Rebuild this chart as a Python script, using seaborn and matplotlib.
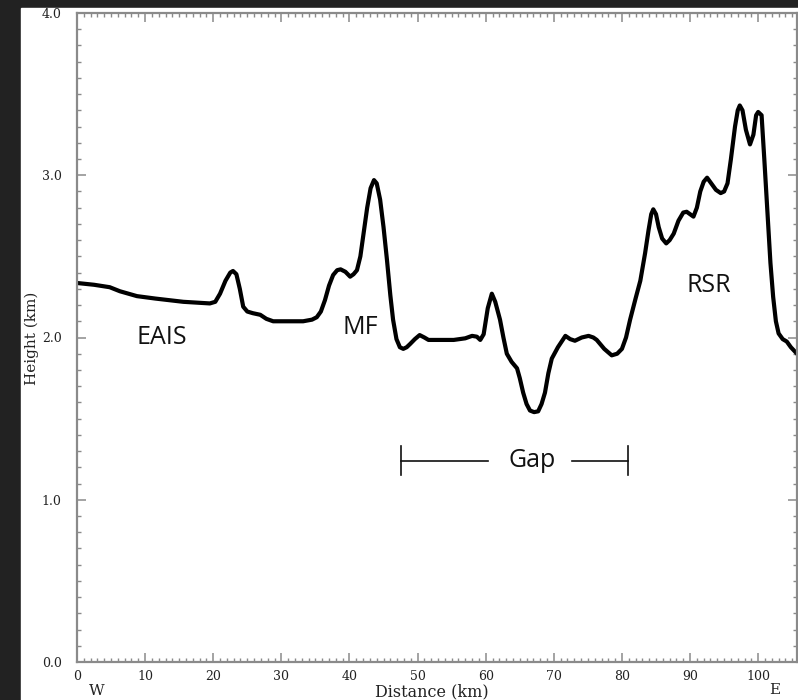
import pandas as pd
import numpy as np
import seaborn as sns
import matplotlib.pyplot as plt
import matplotlib.patches as mpatches
from matplotlib.ticker import MultipleLocator

# profile (km, km)
distance = [0.0, 2.5, 4.8, 6.3, 8.8, 11.5, 13.5, 15.6, 17.5, 19.5,
            20.3, 21.0, 21.8, 22.5, 22.9, 23.4, 23.9, 24.4, 25.0, 25.8,
            26.9, 27.8, 28.8, 30.5, 33.2, 34.5, 35.2, 35.8, 36.4, 37.0,
            37.6, 38.2, 38.7, 39.4, 40.1, 40.6, 41.1, 41.6, 42.0, 42.6,
            43.1, 43.6, 44.0, 44.5, 45.0, 45.5, 46.0, 46.4, 46.9, 47.4,
            47.9, 48.4, 48.9, 49.6, 50.3, 51.0, 51.6, 53.5, 55.3, 57.0,
            58.0, 58.7, 59.2, 59.7, 60.3, 60.9, 61.4, 62.1, 62.6, 63.1,
            63.8, 64.6, 65.0, 65.5, 66.0, 66.5, 67.1, 67.7, 68.2, 68.7,
            69.2, 69.7, 70.6, 71.7, 72.4, 73.1, 74.1, 75.1, 75.8, 76.3,
            77.4, 78.5, 79.3, 80.0, 80.6, 81.2, 82.0, 82.7, 83.4, 83.9,
            84.3, 84.6, 85.0, 85.4, 85.9, 86.5, 87.0, 87.6, 88.3, 89.0,
            89.5, 90.0, 90.5, 91.0, 91.5, 92.0, 92.5, 93.1, 93.8, 94.5,
            95.0, 95.5, 96.0, 96.6, 97.0, 97.3, 97.7, 98.2, 98.8, 99.3,
            99.7, 100.0, 100.5, 100.9, 101.4, 101.8, 102.2, 102.6, 103.0, 103.6,
            104.2, 104.8, 105.7]
height = [2.336, 2.325, 2.31, 2.285, 2.255, 2.24, 2.23, 2.22, 2.215, 2.21,
          2.22, 2.27, 2.35, 2.40, 2.41, 2.39, 2.30, 2.19, 2.16, 2.15,
          2.14, 2.115, 2.10, 2.10, 2.10, 2.11, 2.125, 2.16, 2.23, 2.32,
          2.385, 2.415, 2.42, 2.405, 2.375, 2.39, 2.415, 2.50, 2.62, 2.80,
          2.92, 2.97, 2.95, 2.85, 2.68, 2.48, 2.26, 2.11, 1.99, 1.94,
          1.93, 1.94, 1.96, 1.99, 2.015, 2.00, 1.985, 1.985, 1.985, 1.995,
          2.01, 2.005, 1.985, 2.02, 2.18, 2.27, 2.22, 2.11, 2.00, 1.90,
          1.85, 1.81, 1.75, 1.66, 1.59, 1.55, 1.54, 1.545, 1.59, 1.66,
          1.78, 1.87, 1.94, 2.01, 1.99, 1.98, 2.00, 2.01, 2.00, 1.985,
          1.93, 1.89, 1.90, 1.93, 2.00, 2.11, 2.24, 2.35, 2.52, 2.66,
          2.76, 2.79, 2.76, 2.68, 2.61, 2.58, 2.60, 2.64, 2.72, 2.77,
          2.775, 2.76, 2.745, 2.80, 2.90, 2.96, 2.985, 2.95, 2.91, 2.89,
          2.90, 2.95, 3.10, 3.30, 3.40, 3.43, 3.40, 3.28, 3.19, 3.25,
          3.37, 3.39, 3.37, 3.10, 2.75, 2.46, 2.25, 2.10, 2.025, 1.99,
          1.975, 1.94, 1.90]

region_labels = ['EAIS', 'MF', 'RSR']
region_x = [12.5, 41.6, 92.7]
region_y = [2.0, 2.06, 2.32]

gap_start, gap_end = 47.6, 80.9
gap_label_x = 66.8
gap_line_breaks = [60.4, 72.6]
gap_height = 1.24

df = pd.DataFrame({'distance': distance, 'height': height})

serif = 'DejaVu Serif'
grey = '#8a8a8a'
ink = '#111111'

fig = plt.figure(figsize=(7.98, 7.0), dpi=100, facecolor='#222222')
fig.patches.append(mpatches.Rectangle((21 / 798, 0), 1, (700 - 8) / 700,
                                      transform=fig.transFigure, color='white', zorder=-1))
ax = fig.add_axes([77 / 798, 38 / 700, 720 / 798, 649 / 700])
ax.set_facecolor('white')

sns.lineplot(data=df, x='distance', y='height', color='black', linewidth=3.0,
             sort=False, ax=ax)

ax.set_xlim(0, 105.7)
ax.set_ylim(0, 4.0)
ax.xaxis.set_major_locator(MultipleLocator(10))
ax.xaxis.set_minor_locator(MultipleLocator(1))
ax.yaxis.set_major_locator(MultipleLocator(1.0))
ax.yaxis.set_minor_locator(MultipleLocator(0.1))
ax.set_yticklabels([f'{v:.1f}' for v in ax.get_yticks()])

ax.tick_params(which='both', direction='in', top=True, right=True, color=grey,
               labelsize=9, labelcolor='#222222')
ax.tick_params(which='major', length=6.5, width=1.1)
ax.tick_params(which='minor', length=3.2, width=1.0)
ax.tick_params(axis='x', pad=6)
ax.tick_params(axis='y', pad=11)
for lab in ax.get_xticklabels() + ax.get_yticklabels():
    lab.set_family(serif)
for sp in ax.spines.values():
    sp.set_color(grey)
    sp.set_linewidth(1.6)

ax.set_xlabel('')
ax.set_ylabel('')
fig.text(432 / 798, 1 - 692 / 700, 'Distance (km)', family=serif, fontsize=11.5,
         ha='center', va='center', color='#222222')
fig.text(31.5 / 798, 1 - 338 / 700, 'Height (km)', family=serif, fontsize=11,
         ha='center', va='center', rotation=90, color='#222222')
fig.text(97 / 798, 1 - 691 / 700, 'W', family=serif, fontsize=11,
         ha='center', va='center', color='#222222')
fig.text(775 / 798, 1 - 690 / 700, 'E', family=serif, fontsize=11,
         ha='center', va='center', color='#222222')

for lab, x, y in zip(region_labels, region_x, region_y):
    ax.text(x, y, lab, family='Open Sans', fontsize=18, ha='center', va='center',
            color=ink)

# Gap bracket
ax.plot([gap_start, gap_line_breaks[0]], [gap_height] * 2, color=ink, lw=1.2)
ax.plot([gap_line_breaks[1], gap_end], [gap_height] * 2, color=ink, lw=1.2)
ax.plot([gap_start] * 2, [gap_height - 0.09, gap_height + 0.09], color=ink, lw=1.2)
ax.plot([gap_end] * 2, [gap_height - 0.09, gap_height + 0.09], color=ink, lw=1.2)
ax.text(gap_label_x, gap_height, 'Gap', family='Open Sans', fontsize=18,
        ha='center', va='center', color=ink)

plt.savefig('out.png', dpi=100, facecolor=fig.get_facecolor())
plt.close()
